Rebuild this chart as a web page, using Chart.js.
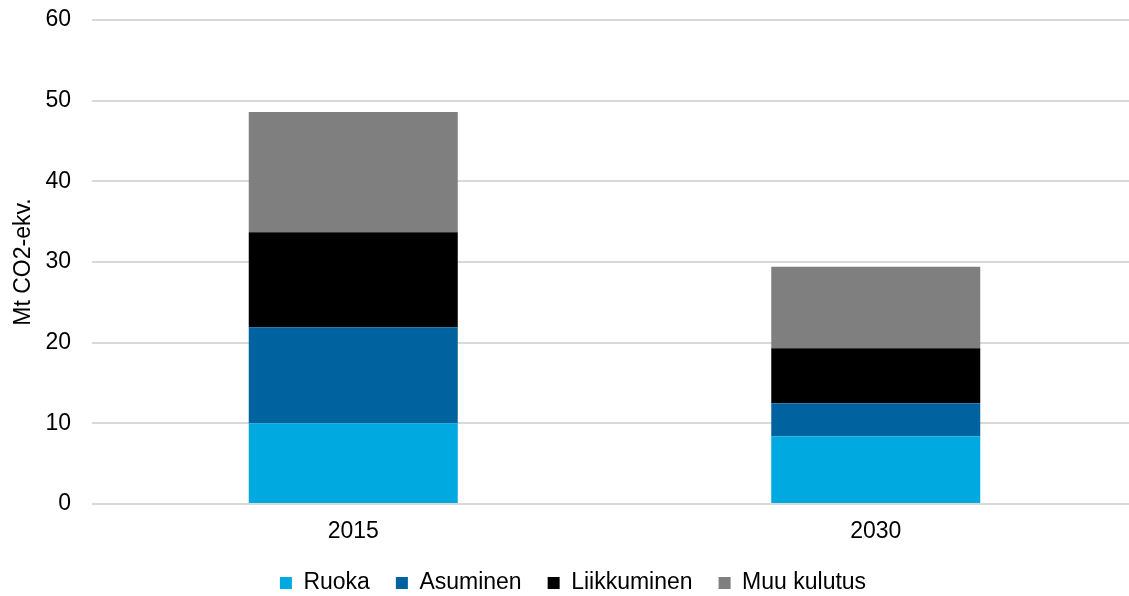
<!DOCTYPE html>
<html><head><meta charset="utf-8">
<script src="https://cdn.jsdelivr.net/npm/chart.js@4"></script>
<style>html,body{margin:0;padding:0;background:#fff;overflow:hidden}#w{width:1137px;height:596px}</style>
</head><body><div id="w"><canvas id="c"></canvas></div>
<script>
const categories = ["2015", "2030"];
const ruoka = [10.0, 8.4];
const asuminen = [11.9, 4.1];
const liikkuminen = [11.8, 6.8];
const muuKulutus = [14.9, 10.1];
const yTicks = [0, 10, 20, 30, 40, 50, 60];

const F = "'Liberation Sans', Arial, sans-serif";
const legendFitPatch = {
  id: 'legendFitPatch',
  beforeLayout(chart) {
    const lg = chart.legend;
    if (lg && !lg._patched) {
      const orig = lg.fit.bind(lg);
      lg.fit = function () { orig(); this.height = 50.5; };
      lg._patched = true;
    }
  }
};
new Chart(document.getElementById('c'), {
  type: 'bar',
  data: {
    labels: categories,
    datasets: [
      {label: 'Ruoka', data: ruoka, backgroundColor: '#00A9E0'},
      {label: 'Asuminen', data: asuminen, backgroundColor: '#0063A0'},
      {label: 'Liikkuminen', data: liikkuminen, backgroundColor: '#000000'},
      {label: 'Muu kulutus', data: muuKulutus, backgroundColor: '#7F7F7F'}
    ]
  },
  plugins: [legendFitPatch],
  options: {
    responsive: true, maintainAspectRatio: false, animation: false,
    layout: {padding: {top: 20, right: 0, left: 9, bottom: 0}},
    datasets: {bar: {categoryPercentage: 1, barPercentage: 0.4}},
    scales: {
      x: {
        stacked: true,
        afterFit: s => { s.height = 41.5; },
        grid: {display: false, drawTicks: false},
        border: {display: false},
        ticks: {color: '#000', font: {family: F, size: 23}, padding: 14}
      },
      y: {
        stacked: true, min: 0, max: 60,
        afterBuildTicks: s => { s.ticks = yTicks.map(v => ({value: v})); },
        afterFit: s => { s.width = 83; },
        grid: {color: '#D9D9D9', lineWidth: 2, drawTicks: true, tickLength: 20, tickColor: 'rgba(0,0,0,0)'},
        border: {display: false},
        ticks: {color: '#000', font: {family: F, size: 23}, padding: 1},
        title: {display: true, text: 'Mt CO2-ekv.', color: '#000', font: {family: F, size: 23}, padding: {top: 1, bottom: 0}}
      }
    },
    plugins: {
      legend: {
        position: 'bottom',
        labels: {color: '#000', font: {family: F, size: 23}, boxWidth: 12, boxHeight: 12, padding: 26}
      },
      tooltip: {enabled: false}
    }
  }
});
</script></body></html>
